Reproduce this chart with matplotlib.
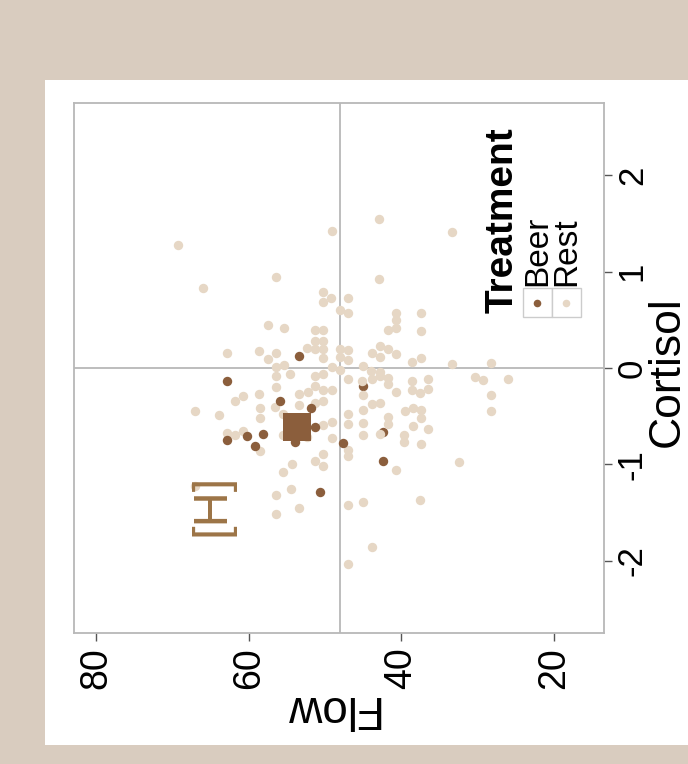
import matplotlib
matplotlib.use("Agg")
import matplotlib.pyplot as plt
from matplotlib.patches import Rectangle

plt.rcParams['font.family'] = ['Liberation Sans', 'DejaVu Sans']

# ---- data (Flow, Cortisol) ----
rest_flow = [69.3, 66.0, 56.4, 49.1, 42.9, 42.9, 50.3, 49.2, 50.3, 47.0,
             48.0, 47.0, 57.5, 55.4, 51.3, 50.3, 62.8, 58.6, 56.4, 57.5,
             52.4, 51.3, 50.3, 51.3, 50.3, 50.3, 48.0, 47.0, 48.0, 47.0,
             43.8, 42.8, 41.8, 42.8, 40.7, 40.7, 40.7, 41.8, 40.7, 37.4,
             37.4, 38.6, 37.4, 33.4, 28.3, 30.4, 29.3, 26.0, 28.3, 28.3,
             33.4, 45.0, 44.0, 42.8, 56.4, 55.4, 56.4, 54.6, 51.3, 50.3,
             49.1, 48.0, 47.0, 45.2, 43.8, 42.8, 41.8, 41.8, 56.4, 60.7,
             61.8, 58.6, 53.4, 52.2, 51.3, 50.3, 49.1, 45.0, 43.8, 42.8,
             40.7, 38.6, 38.6, 37.6, 36.5, 36.5, 58.5, 58.5, 63.9, 67.0,
             56.6, 53.4, 51.3, 50.3, 55.5, 62.8, 61.8, 60.7, 58.5, 50.3,
             49.1, 49.1, 55.5, 52.4, 50.3, 51.3, 50.3, 54.3, 55.5, 56.4,
             54.5, 53.4, 56.4, 67.0, 47.0, 47.0, 47.0, 47.0, 45.0, 45.0,
             45.0, 41.8, 41.8, 42.8, 39.5, 38.5, 37.4, 37.4, 38.5, 36.5,
             39.7, 39.7, 37.4, 40.7, 32.5, 37.6, 47.0, 45.0, 43.8, 47.0]
rest_cortisol = [1.28, 0.83, 0.94, 1.42, 1.55, 0.92, 0.79, 0.73, 0.68, 0.73,
                 0.60, 0.57, 0.45, 0.41, 0.39, 0.39, 0.16, 0.18, 0.16, 0.09,
                 0.21, 0.28, 0.28, 0.20, 0.20, 0.10, 0.20, 0.19, 0.11, 0.08,
                 0.16, 0.23, 0.20, 0.11, 0.15, 0.57, 0.50, 0.39, 0.41, 0.57,
                 0.38, 0.06, 0.10, 0.04, 0.05, -0.09, -0.12, -0.11, -0.28, -0.45,
                 1.41, 0.02, -0.03, -0.04, 0.01, 0.03, -0.08, -0.06, -0.08, -0.06,
                 0.01, -0.02, -0.11, -0.13, -0.11, -0.08, -0.10, -0.17, -0.20, -0.29,
                 -0.34, -0.27, -0.27, -0.25, -0.19, -0.23, -0.23, -0.28, -0.37, -0.36,
                 -0.25, -0.14, -0.23, -0.26, -0.11, -0.22, -0.41, -0.52, -0.49, -0.45,
                 -0.40, -0.38, -0.36, -0.34, -0.48, -0.67, -0.70, -0.65, -0.86, -0.59,
                 -0.56, -0.73, -0.70, -0.72, -0.89, -0.97, -1.02, -1.00, -1.08, -1.32,
                 -1.26, -1.45, -1.52, -1.22, -0.48, -0.58, -0.85, -0.91, -0.44, -0.57,
                 -0.70, -0.51, -0.58, -0.69, -0.45, -0.42, -0.44, -0.52, -0.60, -0.63,
                 -0.70, -0.77, -0.79, -1.06, -0.98, -1.37, -1.42, -1.39, -1.86, -2.03]

beer_flow = [53.4, 62.8, 55.9, 51.8, 51.3, 58.1, 60.2, 62.8, 59.2, 53.9, 47.6, 50.7, 42.4]
beer_cortisol = [0.12, -0.14, -0.34, -0.42, -0.61, -0.68, -0.71, -0.75, -0.81, -0.77, -0.78, -1.29, -0.96]
# beer points that are mostly hidden behind Rest points
beer_under_flow = [45.0, 42.4]
beer_under_cortisol = [-0.19, -0.66]

beer_mean_flow = 53.7
beer_mean_cortisol = -0.61
flow_ref = 48.0
cortisol_ref = 0.0

flow_ticks = [80, 60, 40, 20]
cortisol_ticks = [-2, -1, 0, 1, 2]
cortisol_ticklabels = ["-2", "-1", "0", "1", "2"]
legend_labels = ["Beer", "Rest"]
legend_title = "Treatment"
annotation = "[H]"

BEER = "#8B5E3C"
REST = "#E6D7C5"
FRAME = "#D9CCBF"
GRID = "#B8B8B8"
ANNOT = "#9C7446"

W, H = 688, 764
fig = plt.figure(figsize=(W / 100, H / 100), dpi=100)
fig.patch.set_facecolor(FRAME)
fig.patches.append(Rectangle((45 / W, 1 - 745 / H), (W - 45) / W, 665 / H,
                             transform=fig.transFigure, facecolor="white",
                             edgecolor="none", zorder=-10))

ax = fig.add_axes([74 / W, 1 - 633 / H, 530 / W, 530 / H])
ax.set_facecolor("white")
ax.set_xlim(82.9, 13.46)
ax.set_ylim(-2.75, 2.75)

ax.axvline(flow_ref, color=GRID, lw=1.3, zorder=1)
ax.axhline(cortisol_ref, color=GRID, lw=1.3, zorder=1)

MS = 46
ax.scatter(beer_under_flow, beer_under_cortisol, s=MS, color=BEER, lw=0, zorder=2)
ax.scatter(rest_flow, rest_cortisol, s=MS, color=REST, lw=0, zorder=3)
ax.scatter(beer_flow, beer_cortisol, s=MS, color=BEER, lw=0, zorder=4)
ax.scatter([beer_mean_flow], [beer_mean_cortisol], s=380, marker="s", color=BEER, lw=0, zorder=5)

for sp in ax.spines.values():
    sp.set_color(GRID)
    sp.set_linewidth(1.3)

ax.set_xticks(flow_ticks)
ax.set_xticklabels([str(t) for t in flow_ticks], rotation=90, fontsize=27)
ax.yaxis.tick_right()
ax.set_yticks(cortisol_ticks)
ax.set_yticklabels(cortisol_ticklabels, rotation=90, fontsize=25, va="center")
ax.tick_params(axis="x", length=5.5, width=1, color="#555555", pad=5)
ax.tick_params(axis="y", length=5.5, width=1, color="#555555", pad=3)

ax.set_xlabel("Flow", rotation=180, fontsize=33)
ax.xaxis.set_label_coords(0.483, -0.142)
ax.xaxis.label.set_va("center")
ax.yaxis.set_label_position("right")
ax.set_ylabel("Cortisol", rotation=90, fontsize=32)
ax.yaxis.set_label_coords(1.12, 0.4925)
ax.yaxis.label.set_va("center")

# annotation
ax.text(0.2604, 0.2415, annotation, rotation=90, fontsize=35, color=ANNOT,
        ha="center", va="center", transform=ax.transAxes)

# legend (rotated, drawn manually)
ax.text(0.8094, 0.6038, legend_title, rotation=90, fontsize=28, fontweight="bold",
        ha="center", va="bottom", transform=ax.transAxes, zorder=6)
key_x = [0.8472, 0.9019]
for i, (lab, col) in enumerate(zip(legend_labels, [BEER, REST])):
    ax.add_patch(Rectangle((key_x[i], 0.5962), 0.0547, 0.0547, transform=ax.transAxes,
                           facecolor="white", edgecolor="#CCCCCC", lw=1, zorder=6))
    ax.scatter([key_x[i] + 0.0273], [0.5962 + 0.0273], s=30, color=col, lw=0,
               transform=ax.transAxes, zorder=7)
    ax.text(key_x[i] + 0.0273, 0.6547, lab, rotation=90, fontsize=24,
            ha="center", va="bottom", transform=ax.transAxes, zorder=6)

fig.savefig("out.png", dpi=100, facecolor=fig.get_facecolor())
